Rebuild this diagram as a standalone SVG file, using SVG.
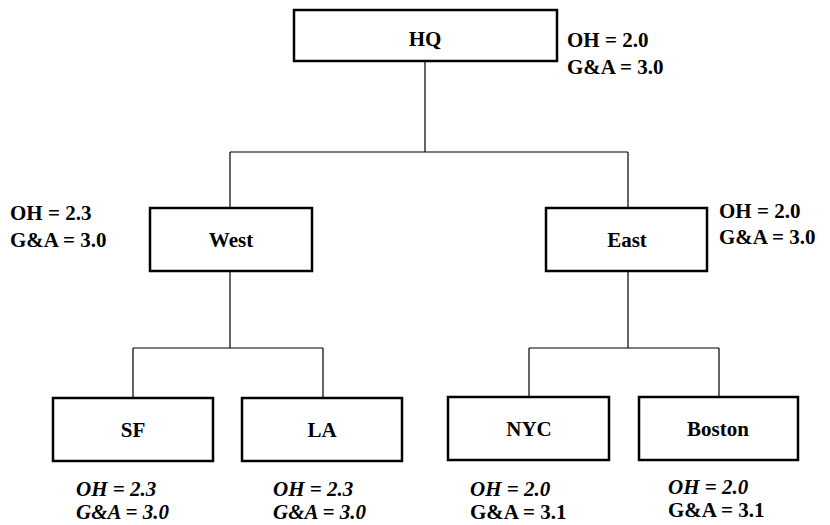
<svg xmlns="http://www.w3.org/2000/svg" width="830" height="525" viewBox="0 0 830 525">
  <style>
    .box { fill: #ffffff; stroke: #000000; stroke-width: 2.5; }
    .wire { fill: none; stroke: #000000; stroke-width: 1.2; }
    .name, .rate { font-family: 'Liberation Serif', Tinos, 'Times New Roman', Times, 'Noto Serif', 'DejaVu Serif', serif; font-weight: bold; fill: #000000; }
    .name { font-size: 21px; text-anchor: middle; }
    .rate { font-size: 21px; }
    .it { font-style: italic; }
  </style>
  <rect width="830" height="525" fill="#ffffff"/>

  <!-- tree wiring: HQ to regions, regions to offices -->
  <g id="connectors">
    <path class="wire" d="M425 61 V152 M230 152 H628 M230 152 V208 M628 152 V208"/>
    <path class="wire" d="M230 271 V348 M133 348 H323 M133 348 V398 M323 348 V398"/>
    <path class="wire" d="M628 271 V348 M529 348 H719 M529 348 V397 M719 348 V397"/>
  </g>

  <g id="hq">
    <rect class="box" x="294" y="10" width="263" height="51"/>
    <text class="name" x="425" y="46">HQ</text>
    <text class="rate" x="567" y="47">OH = 2.0</text>
    <text class="rate" x="567" y="74">G&amp;A = 3.0</text>
  </g>

  <g id="west">
    <rect class="box" x="150" y="208" width="162" height="63"/>
    <text class="name" x="231" y="247">West</text>
    <text class="rate" x="10" y="220">OH = 2.3</text>
    <text class="rate" x="10" y="247">G&amp;A = 3.0</text>
  </g>

  <g id="east">
    <rect class="box" x="546" y="208" width="161" height="63"/>
    <text class="name" x="627" y="247">East</text>
    <text class="rate" x="719" y="218">OH = 2.0</text>
    <text class="rate" x="719" y="244">G&amp;A = 3.0</text>
  </g>

  <g id="sf">
    <rect class="box" x="53" y="398" width="160" height="63"/>
    <text class="name" x="133" y="437">SF</text>
    <text class="rate it" x="76" y="496">OH = 2.3</text>
    <text class="rate it" x="76" y="519">G&amp;A = 3.0</text>
  </g>

  <g id="la">
    <rect class="box" x="242" y="398" width="160" height="63"/>
    <text class="name" x="322" y="437">LA</text>
    <text class="rate it" x="273" y="496">OH = 2.3</text>
    <text class="rate it" x="273" y="519">G&amp;A = 3.0</text>
  </g>

  <g id="nyc">
    <rect class="box" x="448" y="397" width="161" height="63"/>
    <text class="name" x="529" y="436">NYC</text>
    <text class="rate it" x="470" y="496">OH = 2.0</text>
    <text class="rate" x="470" y="519">G&amp;A = 3.1</text>
  </g>

  <g id="boston">
    <rect class="box" x="639" y="397" width="159" height="63"/>
    <text class="name" x="718" y="436">Boston</text>
    <text class="rate it" x="668" y="494">OH = 2.0</text>
    <text class="rate" x="668" y="517">G&amp;A = 3.1</text>
  </g>
</svg>
